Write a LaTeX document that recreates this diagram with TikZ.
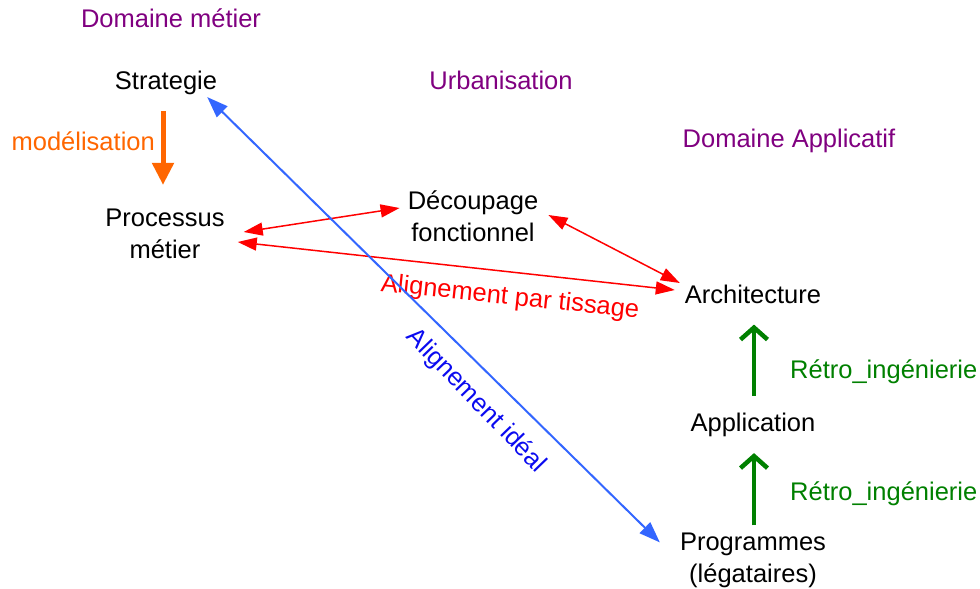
\documentclass[tikz,border=0pt]{standalone}
\usepackage{fontspec}
\setmainfont{Liberation Sans}
\usetikzlibrary{arrows.meta,calc}
\definecolor{dompurple}{RGB}{128,0,128}
\definecolor{orng}{RGB}{255,102,0}
\definecolor{grn}{RGB}{0,128,0}
\definecolor{blueline}{RGB}{51,102,255}
\definecolor{bluetxt}{RGB}{10,10,240}
\definecolor{redc}{RGB}{255,0,0}
\begin{document}
\begin{tikzpicture}[x=1pt,y=-1pt,
  every node/.style={font=\fontsize{25.5}{32}\selectfont, inner sep=0pt, align=center},
  domtitle/.style={text=dompurple},
  redarr/.style={draw=redc, line width=1.5pt, {Triangle[length=19pt,width=13pt]}-{Triangle[length=19pt,width=13pt]}},
  bluearr/.style={draw=blueline, line width=2pt, {Triangle[length=21pt,width=15pt]}-{Triangle[length=21pt,width=15pt]}},
  orangearr/.style={draw=orng, line width=5pt, -{Triangle[length=22pt,width=21pt]}},
  greenarr/.style={draw=grn, line width=4.5pt, -{Straight Barb[length=12pt,width=27pt]}},
]
\useasboundingbox (0,0) rectangle (980,589);

% titles
\node[domtitle] (dm) at (171,18) {Domaine métier};
\node[domtitle] (urb) at (501,80) {Urbanisation};
\node[domtitle] (da) at (789,141) {Domaine Applicatif};

% main nodes
\node (strat) at (166,83) {Strategie};
\node (proc) at (165,234) {Processus\\métier};
\node (dec) at (473,216) {Découpage\\fonctionnel};
\node (arch) at (753,294) {Architecture};
\node (app) at (753,425) {Application};
\node (prog) at (753,560) {Programmes\\(légataires)};

% labels
\node[text=orng, anchor=east] (mod) at (155,141) {modélisation};
\node[text=redc, rotate=-6] (tiss) at (510,298) {Alignement par tissage};
\node[text=bluetxt, rotate=-46] (ideal) at (476,401) {Alignement idéal};
\node[text=grn, anchor=west] (retro1) at (790,372) {Rétro\_ingénierie};
\node[text=grn, anchor=west] (retro2) at (790,494) {Rétro\_ingénierie};

% connectors
\draw[orangearr] ([shift={(-3,16)}]strat.south) -- ([shift={(-2,-24)}]proc.north);
\draw[redarr] ([shift={(19,-2)}]proc.east) -- ([shift={(-8,-8)}]dec.west);
\draw[redarr] ([shift={(13,8)}]proc.east) -- ([shift={(-10,-4)}]arch.west);
\draw[redarr] ([shift={(10,-1)}]dec.east) -- ([shift={(-5,-11)}]arch.west);
\draw[bluearr] ([shift={(-10,2)}]strat.south east) -- ([shift={(-20,10)}]prog.north west);
\draw[greenarr] ([shift={(1,-17)}]app.north) -- ([shift={(1,21)}]arch.south);
\draw[greenarr] ([shift={(1,-7)}]prog.north) -- ([shift={(1,16)}]app.south);
\end{tikzpicture}
\end{document}
